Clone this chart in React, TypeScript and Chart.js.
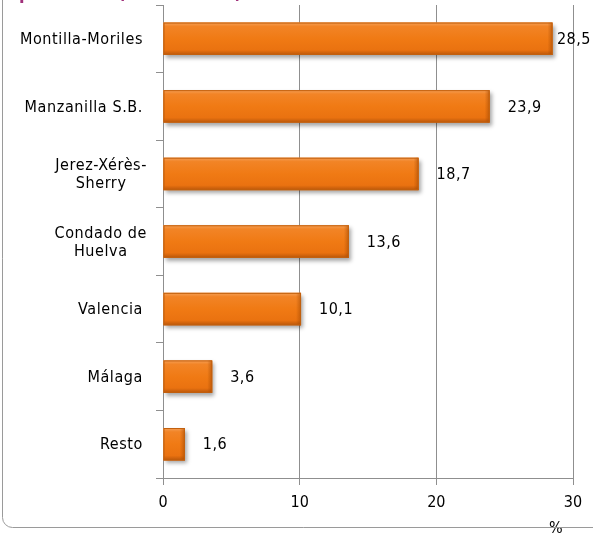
import React, { useEffect, useRef } from "react";
import { Chart, registerables } from "chart.js";

Chart.register(...registerables);

const categories: (string | string[])[] = [
  "Montilla-Moriles",
  "Manzanilla S.B.",
  ["Jerez-Xérès-", "Sherry"],
  ["Condado de", "Huelva"],
  "Valencia",
  "Málaga",
  "Resto",
];
const values = [28.5, 23.9, 18.7, 13.6, 10.1, 3.6, 1.6];
const xMin = 0;
const xMax = 30;
const xStep = 10;
const axisTitle = "%";
const titleStart = "producción ";
const titleParen = "(en volumen)";

const FONT = "'DejaVu Sans Condensed', 'DejaVu Sans', sans-serif";
const GRID = "#8f8f8f";

const decor = {
  id: "decor",
  beforeDatasetsDraw(chart: any) {
    const ctx = chart.ctx;
    ctx.save();
    ctx.shadowColor = "rgba(0,0,0,0.35)";
    ctx.shadowBlur = 4;
    ctx.shadowOffsetX = 2;
    ctx.shadowOffsetY = 3;
  },
  afterDatasetsDraw(chart: any) {
    const ctx = chart.ctx;
    ctx.restore();
    const meta = chart.getDatasetMeta(0);
    meta.data.forEach((el: any, i: number) => {
      const top = el.y - el.height / 2;
      const h = el.height;
      const left = Math.min(el.base, el.x);
      const w = Math.abs(el.x - el.base);
      ctx.save();
      const g = ctx.createLinearGradient(0, top, 0, top + h);
      g.addColorStop(0, "#f5a057");
      g.addColorStop(0.12, "#f28426");
      g.addColorStop(0.5, "#f07a14");
      g.addColorStop(0.85, "#ea7210");
      g.addColorStop(1, "#b9560a");
      ctx.fillStyle = g;
      ctx.fillRect(left, top, w, h);
      const g2 = ctx.createLinearGradient(left + w - 5, 0, left + w, 0);
      g2.addColorStop(0, "rgba(160,70,0,0)");
      g2.addColorStop(1, "rgba(160,70,0,0.55)");
      ctx.fillStyle = g2;
      ctx.fillRect(Math.max(left, left + w - 5), top, Math.min(5, w), h);
      ctx.strokeStyle = "#c2600e";
      ctx.lineWidth = 1;
      ctx.strokeRect(left + 0.5, top + 0.5, w - 1, h - 1);
      ctx.restore();

      const txt = String(values[i]).replace(".", ",");
      ctx.save();
      ctx.font = `16px ${FONT}`;
      (ctx as any).letterSpacing = "0.5px";
      ctx.fillStyle = "#000";
      ctx.textBaseline = "middle";
      ctx.textAlign = "left";
      const tw = ctx.measureText(txt).width;
      let x = el.x + 18;
      if (x + tw > chart.width - 2) x = chart.width - 2 - tw;
      ctx.fillText(txt, x, el.y + 1);
      ctx.restore();
    });
  },
  afterDraw(chart: any) {
    const ctx = chart.ctx;
    const yScale = chart.scales.y;
    ctx.save();
    ctx.font = `16px ${FONT}`;
    (ctx as any).letterSpacing = "0.6px";
    ctx.fillStyle = "#000";
    ctx.textBaseline = "middle";
    ctx.textAlign = "center";
    chart.data.labels.forEach((lab: any, i: number) => {
      const lines: string[] = Array.isArray(lab) ? lab : [lab];
      const widths = lines.map((l) => ctx.measureText(l).width);
      const bw = Math.max(...widths);
      const right = lines.length > 1 ? 147 : 143;
      const cx = right - bw / 2;
      const yc = yScale.getPixelForValue(i);
      const lh = 18;
      lines.forEach((l, k) => {
        ctx.fillText(l, cx, yc + (k - (lines.length - 1) / 2) * lh + 1);
      });
    });
    ctx.textAlign = "left";
    ctx.textBaseline = "top";
    ctx.fillText(axisTitle, 549, 521);
    // cut-off title at the top
    ctx.font = `bold 18px ${FONT}`;
    (ctx as any).letterSpacing = "0px";
    ctx.fillStyle = "#a0307a";
    ctx.textBaseline = "alphabetic";
    ctx.fillText(titleStart, 19, -1.5);
    const pw = ctx.measureText(titleParen).width;
    const n = titleParen.length - 1;
    (ctx as any).letterSpacing = `${(124 - pw) / n}px`;
    ctx.fillText(titleParen, 118, -0.8);
    ctx.restore();
    // frame
    ctx.save();
    ctx.strokeStyle = "#9a9a9a";
    ctx.lineWidth = 1;
    ctx.beginPath();
    (ctx as any).roundRect(2.5, -40.5, 700, 568, 10);
    ctx.stroke();
    ctx.restore();
  },
};

export default function App() {
  const ref = useRef<HTMLCanvasElement>(null);
  useEffect(() => {
    document.body.style.margin = "0";
    const chart = new Chart(ref.current!, {
      type: "bar",
      data: {
        labels: categories,
        datasets: [
          {
            data: values,
            backgroundColor: "#f07a14",
            borderWidth: 0,
            barPercentage: 0.48,
            categoryPercentage: 1,
          },
        ],
      },
      options: {
        indexAxis: "y",
        animation: false,
        responsive: false,
        events: [],
        layout: { padding: { top: 5, right: 20, left: 0, bottom: 0 } },
        plugins: { legend: { display: false }, tooltip: { enabled: false } },
        scales: {
          x: {
            min: xMin,
            max: xMax,
            ticks: {
              stepSize: xStep,
              color: "#000",
              font: { family: FONT, size: 16 },
              padding: 8,
            },
            grid: { color: GRID, tickLength: 7, lineWidth: 1 },
            border: { color: GRID },
            afterFit: (s: any) => {
              s.height = 55;
            },
          },
          y: {
            type: "category",
            offset: true,
            ticks: { display: false },
            grid: {
              offset: true,
              drawOnChartArea: false,
              drawTicks: true,
              tickLength: 7,
              color: GRID,
            },
            border: { color: GRID },
            afterFit: (s: any) => {
              s.width = 163;
            },
          },
        },
      },
      plugins: [decor],
    });
    return () => chart.destroy();
  }, []);
  return (
    <div style={{ position: "absolute", left: 0, top: 0, width: 593, height: 533, background: "#fff" }}>
      <canvas ref={ref} width={593} height={533} style={{ display: "block" }} />
    </div>
  );
}
